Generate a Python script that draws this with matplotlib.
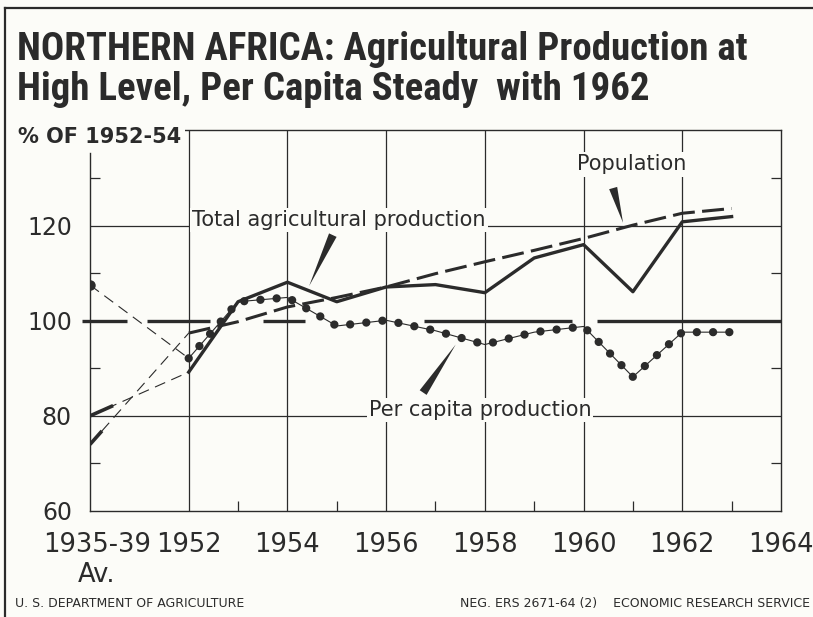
#!/usr/bin/env python3
import matplotlib
matplotlib.use("Agg")
import matplotlib.pyplot as plt
from matplotlib import font_manager
from matplotlib.lines import Line2D
from matplotlib.transforms import ScaledTranslation

# index, % of 1952-54.  the 1935-39 average is drawn at the 1950 slot
base_x = 1950
years = [1952, 1953, 1954, 1955, 1956, 1957, 1958, 1959, 1960, 1961, 1962, 1963]
total_prod = [89.2, 104.0, 108.1, 104.0, 107.1, 107.6, 105.9, 113.2, 116.0, 106.1, 120.8, 121.9]
population = [97.4, 99.8, 102.9, 104.9, 107.1, 109.9, 112.4, 114.8, 117.3, 120.1, 122.6, 123.6]
per_capita = [92.1, 104.0, 104.9, 98.9, 100.1, 97.9, 95.0, 97.6, 98.8, 88.2, 97.6, 97.6]
prewar = {"total": 80.0, "population": 74.0, "per_capita": 107.5}

xtick_pos = [1950, 1952, 1954, 1956, 1958, 1960, 1962, 1964]
xtick_lab = ["1935-39\nAv.", "1952", "1954", "1956", "1958", "1960", "1962", "1964"]
ytick_pos = [60, 80, 100, 120]

# pieces of the heavy 100 line (it is broken where the curves cross it)
ref_pieces = [(1949.84, 1950.75), (1951.15, 1952.43), (1953.5, 1954.36),
              (1956.77, 1959.77), (1960.27, 1964.0)]

BG = "#fcfcf8"
INK = "#2b2b2b"

names = {f.name for f in font_manager.fontManager.ttflist}
title_font = "DejaVu Sans"
for cand in ("Liberation Sans Narrow", "Roboto Condensed", "Roboto", "Liberation Sans"):
    if cand in names:
        title_font = cand
        break
plt.rcParams["font.family"] = ["DejaVu Sans"]

fig = plt.figure(figsize=(8.13, 6.17), dpi=100, facecolor=BG)
ax = fig.add_axes([0.1107, 0.1718, 0.8499, 0.6167], facecolor=BG)
ax.set_xlim(1950, 1964)
ax.set_ylim(60, 140)

# grid
for x in xtick_pos[1:-1]:
    ax.axvline(x, color=INK, lw=0.9, zorder=1)
for y in (80, 120):
    ax.axhline(y, color=INK, lw=0.9, zorder=1)
for a, b in ref_pieces:
    ax.plot([a, b], [100, 100], color=INK, lw=2.4, solid_capstyle="butt",
            clip_on=False, zorder=2)

# 1935-39 to 1952 connectors (thin dashed)
for key, first in (("total", total_prod[0]), ("population", population[0]),
                   ("per_capita", per_capita[0])):
    ax.plot([base_x, years[0]], [prewar[key], first], color=INK, lw=0.8,
            ls=(0, (10, 6)), zorder=3)
# heavy stubs at the prewar points
ax.plot([base_x, years[0]], [prewar["total"], total_prod[0]], color=INK, lw=2.6,
        ls=(0, (7, 1000)), dash_capstyle="butt", zorder=4)
ax.plot([base_x, years[0]], [prewar["population"], population[0]], color=INK, lw=2.6,
        ls=(0, (5, 1000)), dash_capstyle="butt", zorder=4)
ax.plot([base_x], [prewar["per_capita"]], "o", color=INK, ms=6.5, zorder=5)

# main series
ax.plot(years, total_prod, color=INK, lw=2.4, zorder=4)
ax.plot(years, population, color=INK, lw=2.2, ls=(0, (7.2, 2.4)), zorder=4)
ax.plot(years, per_capita, color=INK, lw=0.8, zorder=4)
ax.plot(years, per_capita, color=INK, lw=6.0, ls=(0, (0.001, 1.95)),
        dash_capstyle="round", zorder=5)

# ticks / spines
for s in ax.spines.values():
    s.set_color(INK)
    s.set_linewidth(1.0)
ax.set_xticks(xtick_pos)
ax.set_xticklabels(xtick_lab, fontsize=18.5, color=INK)
ax.set_xticks(range(1953, 1964, 2), minor=True)
ax.set_yticks(ytick_pos)
ax.set_yticklabels([str(v) for v in ytick_pos], fontsize=17, color=INK)
ax.set_yticks([70, 90, 110, 130], minor=True)
ax.tick_params(axis="x", which="major", length=0, pad=15)
ax.tick_params(axis="y", which="major", length=0, pad=13)
ax.tick_params(which="minor", direction="in", length=7, width=0.9, color=INK,
               right=True)
first = ax.get_xticklabels()[0]
first.set_transform(first.get_transform() + ScaledTranslation(0.07, 0, fig.dpi_scale_trans))

# labels with paper-coloured boxes so they cut the grid lines
box = dict(facecolor=BG, edgecolor="none", pad=1.5)
ax.text(1955.05, 120.0, "Total agricultural production", fontsize=15, color=INK,
        ha="center", va="baseline", bbox=box, zorder=6)
ax.text(1960.98, 131.6, "Population", fontsize=15, color=INK, fontweight="medium",
        ha="center", va="baseline", bbox=box, zorder=6)
ax.text(1957.9, 80.0, "Per capita production", fontsize=15, color=INK,
        ha="center", va="baseline", bbox=box, zorder=6)
ax.text(1948.55, 138.6, "% OF 1952-54", fontsize=15, color=INK, fontweight="semibold",
        ha="left", va="center", bbox=dict(facecolor=BG, edgecolor="none", pad=2.5),
        clip_on=False, zorder=6)
# the left axis line starts below that label
ax.spines["left"].set_bounds(60, 135.2)

wedge = dict(arrowstyle="wedge,tail_width=0.6,shrink_factor=0.5", color=INK, lw=0,
             shrinkA=0, shrinkB=0)
ax.annotate("", xy=(1954.44, 107.3), xytext=(1954.92, 118.0), arrowprops=wedge, zorder=6)
ax.annotate("", xy=(1960.8, 120.6), xytext=(1960.6, 127.9), arrowprops=wedge, zorder=6)
ax.annotate("", xy=(1957.41, 95.0), xytext=(1956.75, 84.9), arrowprops=wedge, zorder=6)

# title and page furniture
t1 = fig.text(0.021, 0.903, "NORTHERN AFRICA: Agricultural Production at", family=title_font,
              fontsize=25, fontweight="bold", color=INK, va="baseline")
t2 = fig.text(0.021, 0.838, "High Level, Per Capita Steady  with 1962", family=title_font,
              fontsize=25, fontweight="bold", color=INK, va="baseline")
# shrink the title until the first line is as wide as on the original (~731 px)
r = fig.canvas.get_renderer()
w = t1.get_window_extent(r).width
size = 25 * 731 / w
t1.set_fontsize(size)
t2.set_fontsize(size)

fig.text(0.018, 0.016, "U. S. DEPARTMENT OF AGRICULTURE", fontsize=9, color=INK)
fig.text(0.996, 0.016, "NEG. ERS 2671-64 (2)    ECONOMIC RESEARCH SERVICE", fontsize=9,
         color=INK, ha="right")
fig.add_artist(Line2D([0.006, 0.006], [0.0, 0.987], color=INK, lw=1.6))
fig.add_artist(Line2D([0.006, 1.0], [0.987, 0.987], color=INK, lw=1.6))

fig.savefig("out.png", dpi=100, facecolor=BG)
